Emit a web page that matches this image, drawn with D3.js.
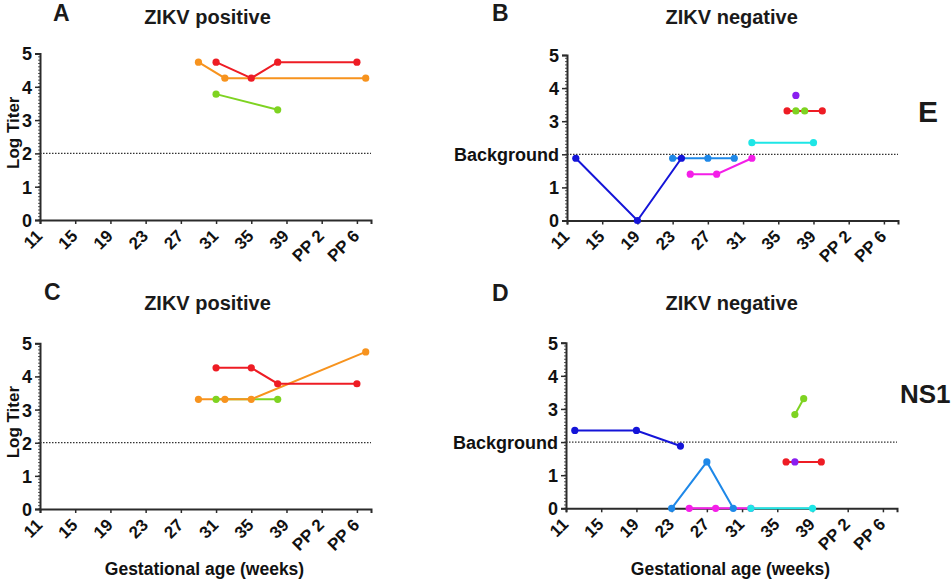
<!DOCTYPE html>
<html>
<head>
<meta charset="utf-8">
<script src="https://cdn.jsdelivr.net/npm/d3@7"></script>
<style>
  html, body { margin: 0; padding: 0; background: #fff; }
  svg { display: block; font-family: "Liberation Sans", Arial, sans-serif; font-weight: bold; }
</style>
</head>
<body>
<svg id="chart" width="951" height="580"></svg>
<script>
// ---------- DATA ----------
const xTickValues = [11, 15, 19, 23, 27, 31, 35, 39, 43, 47];
const xTickLabels = ["11", "15", "19", "23", "27", "31", "35", "39", "PP 2", "PP 6"];
const yTickValues = [0, 1, 2, 3, 4, 5];
const backgroundLevel = 2;

const panelLetters = ["A", "B", "C", "D"];
const panelTitles = ["ZIKV positive", "ZIKV negative", "ZIKV positive", "ZIKV negative"];
const rowLabels = ["E", "NS1"];

// Panel A (E antigen, ZIKV positive)
const aOrange = { weeks: [29, 32, 48], titers: [4.74, 4.26, 4.26] };
const aRed    = { weeks: [31, 35, 38, 47], titers: [4.74, 4.26, 4.74, 4.74] };
const aGreen  = { weeks: [31, 38], titers: [3.78, 3.31] };

// Panel B (E antigen, ZIKV negative)
const bBlue      = { weeks: [12, 19, 24], titers: [1.88, 0, 1.88] };
const bLightBlue = { weeks: [23, 27, 30], titers: [1.88, 1.88, 1.88] };
const bMagenta   = { weeks: [25, 28, 32], titers: [1.40, 1.40, 1.88] };
const bCyan      = { weeks: [32, 39], titers: [2.35, 2.35] };
const bGreen     = { weeks: [37, 38], titers: [3.31, 3.31] };
const bRed       = { weeks: [36, 40], titers: [3.31, 3.31] };
const bPurple    = { weeks: [37], titers: [3.78] };

// Panel C (NS1, ZIKV positive)
const cGreen  = { weeks: [31, 38], titers: [3.31, 3.31] };
const cOrange = { weeks: [29, 32, 35, 48], titers: [3.31, 3.31, 3.31, 4.74] };
const cRed    = { weeks: [31, 35, 38, 47], titers: [4.26, 4.26, 3.78, 3.78] };

// Panel D (NS1, ZIKV negative)
const dBlue      = { weeks: [12, 19, 24], titers: [2.35, 2.35, 1.88] };
const dLightBlue = { weeks: [23, 27, 30], titers: [0, 1.40, 0] };
const dMagenta   = { weeks: [25, 28, 32], titers: [0, 0, 0] };
const dCyan      = { weeks: [32, 39], titers: [0, 0] };
const dRed       = { weeks: [36, 40], titers: [1.40, 1.40] };
const dPurple    = { weeks: [37], titers: [1.40] };
const dGreen     = { weeks: [37, 38], titers: [2.83, 3.31] };

// ---------- STYLES ----------
const colors = {
  red: "#ee1c24", orange: "#f7931e", green: "#7ed321", blue: "#1414d8",
  lightblue: "#1e88e8", magenta: "#f41ee8", cyan: "#1ee6e6", purple: "#8a1ef0"
};

const panelSeries = [
  [["orange", aOrange], ["red", aRed], ["green", aGreen]],
  [["blue", bBlue], ["lightblue", bLightBlue], ["magenta", bMagenta], ["cyan", bCyan], ["green", bGreen], ["red", bRed], ["purple", bPurple]],
  [["green", cGreen], ["orange", cOrange], ["red", cRed]],
  [["lightblue", dLightBlue], ["magenta", dMagenta], ["cyan", dCyan], ["blue", dBlue], ["red", dRed], ["purple", dPurple], ["green", dGreen]]
];

const layout = [
  { x0: 40,  x1: 371, yTop: 53.5,  yBot: 220,   bgLabel: false, xTitle: false, titleX: 207.5, titleY: 24,  letterX: 53,  letterY: 21 },
  { x0: 567, x1: 898, yTop: 55,    yBot: 220.5, bgLabel: true,  xTitle: false, titleX: 731.7, titleY: 24,  letterX: 492, letterY: 21 },
  { x0: 40,  x1: 371, yTop: 343.3, yBot: 509,   bgLabel: false, xTitle: true,  titleX: 207.5, titleY: 310, letterX: 44,  letterY: 300 },
  { x0: 566, x1: 897, yTop: 342.7, yBot: 508.3, bgLabel: true,  xTitle: true,  titleX: 731.7, titleY: 310, letterX: 492, letterY: 301 }
];

const svg = d3.select("#chart");
const axisColor = "#2b2b2b";

layout.forEach((L, i) => {
  const x = d3.scaleLinear().domain([11, 48.6]).range([L.x0, L.x1]);
  const y = d3.scaleLinear().domain([0, 5]).range([L.yBot, L.yTop]);
  const g = svg.append("g");

  // letter + title
  g.append("text").attr("x", L.letterX).attr("y", L.letterY)
    .attr("font-size", 23).attr("fill", "#1a1a1a").text(panelLetters[i]);
  g.append("text").attr("x", L.titleX).attr("y", L.titleY)
    .attr("text-anchor", "middle").attr("font-size", 20).attr("fill", "#1a1a1a").text(panelTitles[i]);

  // minor y ticks
  const minor = d3.range(0, 50).map(v => v / 10);
  g.append("g").selectAll("line").data(minor).join("line")
    .attr("x1", L.x0 - 2).attr("x2", L.x0)
    .attr("y1", d => y(d)).attr("y2", d => y(d))
    .attr("stroke", axisColor).attr("stroke-width", 0.8);

  // y axis
  const yAxis = d3.axisLeft(y).tickValues(yTickValues).tickSize(5).tickPadding(3)
    .tickFormat(d => (L.bgLabel && d === backgroundLevel) ? "Background" : String(d));
  const ya = g.append("g").attr("transform", `translate(${L.x0},0)`).call(yAxis);
  ya.select(".domain").attr("stroke", axisColor).attr("stroke-width", 2);
  ya.selectAll(".tick line").attr("stroke", axisColor).attr("stroke-width", 1.5);
  ya.selectAll(".tick text").attr("font-size", 18).attr("fill", "#111")
    .attr("font-family", "Liberation Sans, Arial, sans-serif").attr("font-weight", "bold").attr("dy", "0.36em");

  // x axis
  const xAxis = d3.axisBottom(x).tickValues(xTickValues).tickSize(4)
    .tickFormat((d, k) => xTickLabels[k]);
  const xa = g.append("g").attr("transform", `translate(0,${L.yBot})`).call(xAxis);
  xa.select(".domain").attr("stroke", axisColor).attr("stroke-width", 2);
  xa.selectAll(".tick line").attr("stroke", axisColor).attr("stroke-width", 1.5);
  xa.selectAll(".tick text").attr("font-size", 17).attr("fill", "#111")
    .attr("font-family", "Liberation Sans, Arial, sans-serif").attr("font-weight", "bold")
    .attr("text-anchor", "end").attr("dy", null).attr("y", null)
    .attr("transform", "translate(3,17) rotate(-45)");

  // background dotted line
  g.append("line").attr("x1", L.x0).attr("x2", L.x1)
    .attr("y1", y(backgroundLevel)).attr("y2", y(backgroundLevel))
    .attr("stroke", "#333").attr("stroke-width", 1.2).attr("stroke-dasharray", "1.5,1.5");

  // y axis label (left panels)
  if (!L.bgLabel) {
    g.append("text").attr("transform", `translate(19,${(L.yTop + L.yBot) / 2 - 4}) rotate(-90)`)
      .attr("text-anchor", "middle").attr("font-size", 17).attr("fill", "#111").text("Log Titer");
  }
  // x axis title
  if (L.xTitle) {
    g.append("text").attr("x", (L.x0 + L.x1) / 2 - 1).attr("y", 575)
      .attr("text-anchor", "middle").attr("font-size", 17.5).attr("fill", "#111").text("Gestational age (weeks)");
  }

  // series
  const line = d3.line().x(d => x(d[0])).y(d => y(d[1]));
  const series = panelSeries[i];
  const lg = g.append("g"), pg = g.append("g");
  series.forEach(([name, s]) => {
    const pts = s.weeks.map((w, k) => [w, s.titers[k]]);
    if (pts.length > 1) {
      lg.append("path").datum(pts).attr("d", line).attr("fill", "none")
        .attr("stroke", colors[name]).attr("stroke-width", 2);
    }
  });
  series.forEach(([name, s]) => {
    const pts = s.weeks.map((w, k) => [w, s.titers[k]]);
    pg.selectAll(null).data(pts).join("circle")
      .attr("cx", d => x(d[0])).attr("cy", d => y(d[1])).attr("r", 3.6)
      .attr("fill", colors[name]);
  });
});

// row labels
svg.append("text").attr("x", 918).attr("y", 122).attr("font-size", 30).attr("fill", "#1a1a1a").text(rowLabels[0]);
svg.append("text").attr("x", 900).attr("y", 403).attr("font-size", 26).attr("fill", "#1a1a1a").text(rowLabels[1]);
</script>
</body>
</html>
